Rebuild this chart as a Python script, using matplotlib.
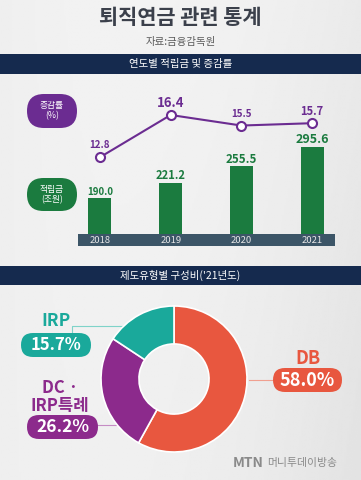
import numpy as np
import matplotlib
matplotlib.use("Agg")
import matplotlib.pyplot as plt
from matplotlib.patches import FancyBboxPatch, Rectangle

plt.rcParams["font.family"] = ["Noto Sans CJK KR", "DejaVu Sans"]

# 데이터
years = ["2018", "2019", "2020", "2021"]
reserve = [190.0, 221.2, 255.5, 295.6]      # 적립금 (조원)
growth = [12.8, 16.4, 15.5, 15.7]           # 증감률 (%)
share_labels = ["DB", "DC ·\nIRP특례", "IRP"]
share_values = [58.0, 26.2, 15.7]           # 구성비 (%)

W, H = 361, 480
navy = "#152a4e"
purple = "#6b2c91"
green = "#1b7b3f"
c_db = "#e8573f"
c_dc = "#8c2a8c"
c_irp = "#1aa99b"


def px_box(x0, y0, x1, y1):
    return [x0 / W, 1 - y1 / H, (x1 - x0) / W, (y1 - y0) / H]


def pill(ax, x0, y0, x1, y1, color):
    #  양 끝이 둥근 라벨 박스
    h = y1 - y0
    p = FancyBboxPatch((x0, y0), x1 - x0, h,
                       boxstyle="round,pad=0,rounding_size=%f" % (h / 2),
                       facecolor=color, edgecolor="none", zorder=2)
    ax.add_patch(p)


fig = plt.figure(figsize=(W / 100, H / 100), dpi=100)

#  배경
bg = fig.add_axes([0, 0, 1, 1])
bg.set_xlim(0, W)
bg.set_ylim(H, 0)
bg.axis("off")
xx, yy = np.meshgrid(np.linspace(0, 1, 200), np.linspace(0, 1, 200))
grad = 0.95 - 0.09 * (xx - 0.4) ** 2 - 0.03 * yy * xx
bg.imshow(grad, cmap="gray", vmin=0, vmax=1, extent=[0, W, H, 0], aspect="auto", zorder=0)

#  제목
bg.text(W / 2, 18, "퇴직연금 관련 통계", ha="center", va="center", fontsize=15,
        fontweight="bold", color="#3b404b")
bg.text(W / 2, 42, "자료:금융감독원", ha="center", va="center", fontsize=7.5, color="#5a5a5a")

#  배너
bg.add_patch(Rectangle((0, 54), W, 20, facecolor=navy, edgecolor="none"))
bg.text(W / 2, 63.5, "연도별 적립금 및 증감률", ha="center", va="center", fontsize=7.5, color="white")
bg.add_patch(Rectangle((0, 266), W, 19, facecolor=navy, edgecolor="none"))
bg.text(W / 2, 275, "제도유형별 구성비('21년도)", ha="center", va="center", fontsize=7.5, color="white")

#  왼쪽 라벨
pill(bg, 27, 94, 77, 128, purple)
bg.text(52, 111, "증감률\n(%)", ha="center", va="center", fontsize=6.3, color="white",
        linespacing=1.15, zorder=3)
pill(bg, 27, 178, 77, 211, green)
bg.text(52, 194.5, "적립금\n(조원)", ha="center", va="center", fontsize=6.3, color="white",
        linespacing=1.15, zorder=3)

#  연도 띠
bg.add_patch(Rectangle((78, 234), 257, 12, facecolor="#3c5567", edgecolor="none"))

x = np.arange(len(years))
xlim = (-0.311, 3.325)

#  막대
ax = fig.add_axes(px_box(78, 130, 335, 234))
ax.patch.set_alpha(0)
ax.bar(x, reserve, width=0.325, color=green)
ax.set_xlim(*xlim)
ax.set_ylim(115.5, 330.8)
ax.axis("off")
bar_fs = [7, 8, 8.3, 9]
for i, v in enumerate(reserve):
    ax.annotate("%.1f" % v, (x[i], v), xytext=(0, 0.5), textcoords="offset points",
                ha="center", va="bottom", fontsize=bar_fs[i], fontweight="bold", color=green)
for i, yr in enumerate(years):
    bg.text(100 + i * 70.67, 240.5, yr, ha="center", va="center", fontsize=6.8, color="#e6e6e6")

#  꺾은선
ax2 = fig.add_axes(px_box(78, 90, 335, 170))
ax2.patch.set_alpha(0)
ax2.plot(x, growth, color=purple, linewidth=1.5, marker="o", markersize=6.5,
         markerfacecolor="white", markeredgecolor=purple, markeredgewidth=1.5)
ax2.set_xlim(*xlim)
ax2.set_ylim(11.71, 18.53)
ax2.axis("off")
line_fs = [7, 9.5, 7, 8]
for i, v in enumerate(growth):
    ax2.annotate("%.1f" % v, (x[i], v), xytext=(0, 8.5), textcoords="offset points",
                 ha="center", va="center", fontsize=line_fs[i], fontweight="bold", color=purple)

#  도넛
ax3 = fig.add_axes(px_box(101, 306, 247, 452))
ax3.pie(share_values, colors=[c_db, c_dc, c_irp], startangle=90, counterclock=False,
        radius=1, wedgeprops=dict(width=0.52, edgecolor="white", linewidth=1.2))
ax3.set_xlim(-1, 1)
ax3.set_ylim(-1, 1)
ax3.set_aspect("equal")

#  지시선
bg.plot([72, 72, 126], [333, 326, 326], color="#7fd3c9", linewidth=0.8, zorder=1)
bg.plot([97, 118], [425, 425], color="#c58cc4", linewidth=0.8, zorder=1)
bg.plot([249, 273], [380, 380], color="#f0a090", linewidth=0.8, zorder=1)

#  도넛 라벨
bg.text(56, 321, share_labels[2], ha="center", va="center", fontsize=12.5, fontweight="bold", color=c_irp)
pill(bg, 21, 333, 91, 357, c_irp)
bg.text(56, 345, "%.1f%%" % share_values[2], ha="center", va="center", fontsize=12,
        fontweight="bold", color="white", zorder=3)

bg.text(60, 397, share_labels[1], ha="center", va="center", fontsize=12, fontweight="bold",
        color=c_dc, linespacing=1.0)
pill(bg, 27, 415, 98, 439, c_dc)
bg.text(62.5, 427, "%.1f%%" % share_values[1], ha="center", va="center", fontsize=12.5,
        fontweight="bold", color="white", zorder=3)

bg.text(308, 359, share_labels[0], ha="center", va="center", fontsize=13, fontweight="bold", color=c_db)
pill(bg, 273, 368, 342, 392, c_db)
bg.text(307.5, 380, "%.1f%%" % share_values[0], ha="center", va="center", fontsize=13,
        fontweight="bold", color="white", zorder=3)

#  로고
bg.text(264, 463, "MTN", ha="right", va="center", fontsize=10, fontweight="bold", color="#8a8a8a")
bg.text(267, 463, "머니투데이방송", ha="left", va="center", fontsize=7.8, color="#8a8a8a")

fig.savefig("out.png", dpi=100)
